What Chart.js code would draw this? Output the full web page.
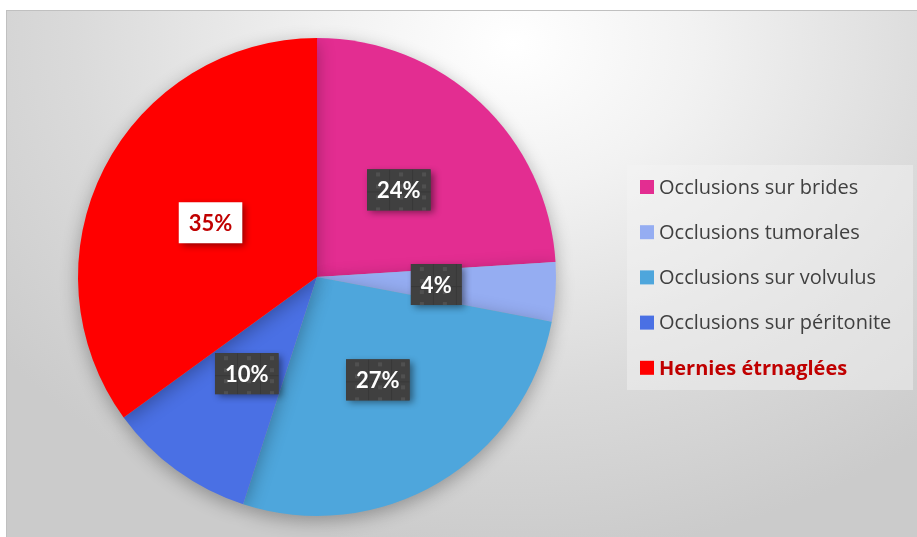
<!DOCTYPE html>
<html>
<head>
<meta charset="utf-8">
<script src="https://cdn.jsdelivr.net/npm/chart.js@4"></script>
<style>
  html, body { margin: 0; padding: 0; background: #fff; }
  #wrap { position: relative; width: 917px; height: 537px; overflow: hidden; }
  #frame {
    position: absolute; left: 6px; top: 10px; width: 920px; height: 540px;
    border: 1px solid #c0c0c0;
    background: radial-gradient(ellipse 70% 95% at 55% 6%, #ffffff 0%, #f2f2f2 28%, #dadada 68%, #cbcbcb 100%);
  }
  #pieChart { position: absolute; left: 0; top: 0; }
</style>
</head>
<body>
<div id="wrap">
  <div id="frame"></div>
  <canvas id="pieChart" width="917" height="537"></canvas>
</div>
<script>
const categories = ['Occlusions sur brides', 'Occlusions tumorales', 'Occlusions sur volvulus', 'Occlusions sur péritonite', 'Hernies étrnaglées'];
const percents = [24, 4, 27, 10, 35];
const sliceColors = ['#e32d91', '#95adf2', '#4ea6dc', '#4a70e4', '#ff0000'];

// small texture for the dark label boxes
function boxPattern(ctx) {
  const c = document.createElement('canvas');
  c.width = 23; c.height = 23;
  const g = c.getContext('2d');
  g.fillStyle = '#404040';
  g.fillRect(0, 0, 23, 23);
  g.fillStyle = '#383838';
  g.fillRect(22, 0, 1, 23);
  g.fillRect(0, 22, 23, 1);
  g.fillStyle = '#505050';
  g.fillRect(9, 3, 4, 4);
  g.fillRect(9, 15, 4, 4);
  return ctx.createPattern(c, 'repeat');
}

// data labels: dark boxes, the last one white with red text
const pieLabels = {
  id: 'pieLabels',
  afterDatasetsDraw(chart) {
    const ctx = chart.ctx;
    const meta = chart.getDatasetMeta(0);
    const pat = boxPattern(ctx);
    ctx.save();
    ctx.font = 'bold 22px Lato, "Open Sans", sans-serif';
    ctx.textAlign = 'center';
    ctx.textBaseline = 'middle';
    meta.data.forEach((arc, i) => {
      const p = arc.tooltipPosition();
      const txt = percents[i] + '%';
      const w = ctx.measureText(txt).width + 20;
      const h = 41;
      const last = i === percents.length - 1;
      ctx.save();
      ctx.shadowColor = 'rgba(0,0,0,0.45)';
      ctx.shadowBlur = 7;
      ctx.shadowOffsetX = 3;
      ctx.shadowOffsetY = 3;
      ctx.fillStyle = last ? '#ffffff' : '#404040';
      ctx.fillRect(p.x - w / 2, p.y - h / 2, w, h);
      ctx.restore();
      if (!last) {
        ctx.save();
        ctx.translate(p.x - w / 2, p.y - h / 2);
        ctx.fillStyle = pat;
        ctx.fillRect(0, 0, w, h);
        ctx.restore();
      }
      ctx.fillStyle = last ? '#c00000' : '#ffffff';
      ctx.fillText(txt, p.x, p.y + 1);
    });
    ctx.restore();
  }
};

// shadow under the pie
const pieShadow = {
  id: 'pieShadow',
  beforeDatasetsDraw(chart) {
    const ctx = chart.ctx;
    ctx.save();
    ctx.shadowColor = 'rgba(0,0,0,0.3)';
    ctx.shadowBlur = 18;
    ctx.shadowOffsetX = 0;
    ctx.shadowOffsetY = 5;
  },
  afterDatasetsDraw(chart) {
    chart.ctx.restore();
  }
};

// legend box on the right
const sideLegend = {
  id: 'sideLegend',
  afterDraw(chart) {
    const ctx = chart.ctx;
    ctx.save();
    ctx.fillStyle = 'rgba(245,245,245,0.45)';
    ctx.fillRect(627, 165, 286, 225);
    ctx.textBaseline = 'middle';
    const ds = chart.data.datasets[0];
    chart.data.labels.forEach((lab, i) => {
      const y = 187 + i * 45.2;
      const last = i === chart.data.labels.length - 1;
      ctx.fillStyle = ds.backgroundColor[i];
      ctx.fillRect(640, y - 7, 14, 14);
      ctx.font = (last ? 'bold ' : '') + '20px "Open Sans", Lato, sans-serif';
      ctx.fillStyle = last ? '#c00000' : '#404040';
      ctx.fillText(lab, 659, y + 1);
    });
    ctx.restore();
  }
};

var pie = document.getElementById('pieChart').getContext('2d');
var myChart = new Chart(pie, {
  type: 'pie',
  data: {
    labels: categories,
    datasets: [{
      data: percents,
      backgroundColor: sliceColors,
      borderWidth: 0
    }]
  },
  options: {
    responsive: false,
    animation: false,
    layout: { padding: { left: 78, top: 38, right: 361, bottom: 21 } },
    plugins: {
      legend: { display: false },
      tooltip: { enabled: false }
    }
  },
  plugins: [pieShadow, pieLabels, sideLegend]
});
</script>
</body>
</html>
